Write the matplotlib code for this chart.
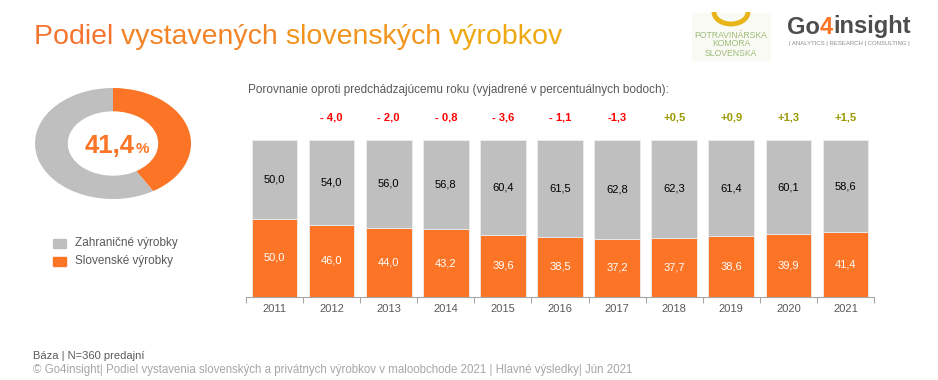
import numpy as np
import matplotlib.pyplot as plt
from matplotlib.patches import Arc, Rectangle

plt.rcParams['font.family'] = ['Liberation Sans', 'DejaVu Sans']

years = ["2011", "2012", "2013", "2014", "2015", "2016", "2017", "2018", "2019", "2020", "2021"]
slovak = [50.0, 46.0, 44.0, 43.2, 39.6, 38.5, 37.2, 37.7, 38.6, 39.9, 41.4]
foreign = [50.0, 54.0, 56.0, 56.8, 60.4, 61.5, 62.8, 62.3, 61.4, 60.1, 58.6]
changes = ["", "- 4,0", "- 2,0", "- 0,8", "- 3,6", "- 1,1", "-1,3", "+0,5", "+0,9", "+1,3", "+1,5"]
donut_share = 41.4

ORANGE = "#FC7425"
GREY = "#BFBFBF"
TXT = "#595959"
W, H = 938, 380


def fx(px):
    return px / W


def fy(py):
    return 1 - py / H


def fmt(v):
    return f"{v:.1f}".replace(".", ",")


fig = plt.figure(figsize=(W / 100, H / 100), dpi=100)
fig.patch.set_facecolor("white")
renderer = fig.canvas.get_renderer()


def text_run(x_px, y_px, parts, **kw):
    # draws a row of differently coloured text pieces side by side
    x = fx(x_px)
    for s, c in parts:
        t = fig.text(x, fy(y_px), s, color=c, va="center", ha="left", **kw)
        bb = t.get_window_extent(renderer=renderer)
        x += bb.width / W


# title
text_run(34, 37, [("Podiel ", "#F47530"), ("vystavených ", "#F38426"),
                  ("slovenských ", "#F2941C"), ("výrobkov", "#F0A812")], fontsize=20.5)

# --- bar chart ---
ax = fig.add_axes([fx(246), fy(297), (874 - 246) / W, 157 / H])
x = np.arange(len(years))
ax.bar(x, slovak, width=0.8, color=ORANGE, edgecolor="#EDEDED", linewidth=0.6)
ax.bar(x, foreign, width=0.8, bottom=slovak, color=GREY, edgecolor="#EDEDED", linewidth=0.6)
for i in range(len(years)):
    ax.text(i, slovak[i] / 2, fmt(slovak[i]), ha="center", va="center",
            color="white", fontsize=8)
    ax.text(i, slovak[i] + foreign[i] / 2, fmt(foreign[i]), ha="center", va="center",
            color="black", fontsize=8)
    if changes[i]:
        col = "#FF0000" if changes[i].startswith("-") else "#999900"
        ax.text(i, 114.6, changes[i], ha="center", va="center", color=col,
                fontsize=8, fontweight="bold", clip_on=False)
ax.set_xlim(-0.5, len(years) - 0.5)
ax.set_ylim(0, 100)
for s in ["top", "right", "left"]:
    ax.spines[s].set_visible(False)
ax.spines["bottom"].set_color("#A6A6A6")
ax.spines["bottom"].set_linewidth(0.8)
ax.set_yticks([])
ax.set_xticks(x)
ax.set_xticklabels(years, color=TXT, fontsize=8)
ax.tick_params(axis="x", which="major", length=0, pad=5)
ax.set_xticks(np.arange(-0.5, len(years)), minor=True)
ax.tick_params(axis="x", which="minor", length=4, color="#A6A6A6", width=0.8)

fig.text(fx(248), fy(90), "Porovnanie oproti predchádzajúcemu roku (vyjadrené v percentuálnych bodoch):",
         fontsize=8.5, color=TXT, va="center", ha="left")

# --- donut ---
dax = fig.add_axes([fx(35), fy(199), 156 / W, 111 / H])
dax.pie([donut_share, 100 - donut_share], colors=[ORANGE, GREY], startangle=90,
        counterclock=False, radius=1, wedgeprops=dict(width=0.42, edgecolor="none"))
dax.set_aspect("auto")
dax.set_xlim(-1, 1)
dax.set_ylim(-1, 1)
dax.axis("off")
fig.text(fx(135), fy(153), fmt(donut_share), color=ORANGE, fontsize=18.5,
         fontweight="bold", ha="right", va="baseline")
fig.text(fx(135.5), fy(153), "%", color=ORANGE, fontsize=11,
         fontweight="bold", ha="left", va="baseline")

# legend
for yy, col, lab in [(243, GREY, "Zahraničné výrobky"), (261, ORANGE, "Slovenské výrobky")]:
    fig.patches.append(Rectangle((fx(53), fy(yy + 4.5)), 13 / W, 9 / H, color=col,
                                 transform=fig.transFigure, figure=fig))
    fig.text(fx(75), fy(yy), lab, fontsize=8.5, color=TXT, va="center", ha="left")

# --- logos ---
fig.patches.append(Rectangle((fx(692), fy(60)), 78 / W, 47 / H, color="#FAFAF5",
                             transform=fig.transFigure, figure=fig, zorder=-1))
lax = fig.add_axes([fx(700), fy(30), 60 / W, 30 / H])
lax.add_patch(Arc((731, 12), 34, 24, theta1=0, theta2=180, color="#E8B417", linewidth=3.5))
lax.set_xlim(700, 760)
lax.set_ylim(30, 0)
lax.axis("off")
for yy, s in [(35, "POTRAVINÁRSKA"), (44, "KOMORA"), (53, "SLOVENSKA")]:
    fig.text(fx(731), fy(yy), s, fontsize=6.2, color="#9DBB78", ha="center", va="center")

text_run(787, 27, [("Go", "#4D4D4D"), ("4", ORANGE), ("insight", "#4D4D4D")],
         fontsize=17, fontweight="bold")
fig.text(fx(789), fy(44), "| ANALYTICS | RESEARCH | CONSULTING |", fontsize=4.3,
         color="#8C8C8C", va="center", ha="left")

# footer
fig.text(fx(33), fy(356), "Báza | N=360 predajní", fontsize=8, color="#595959", va="center")
fig.text(fx(33), fy(370), "© Go4insight| Podiel vystavenia slovenských a privátnych výrobkov v maloobchode 2021 | "
         "Hlavné výsledky| Jún 2021", fontsize=8.3, color="#A6A6A6", va="center")

fig.savefig("out.png", dpi=100)
